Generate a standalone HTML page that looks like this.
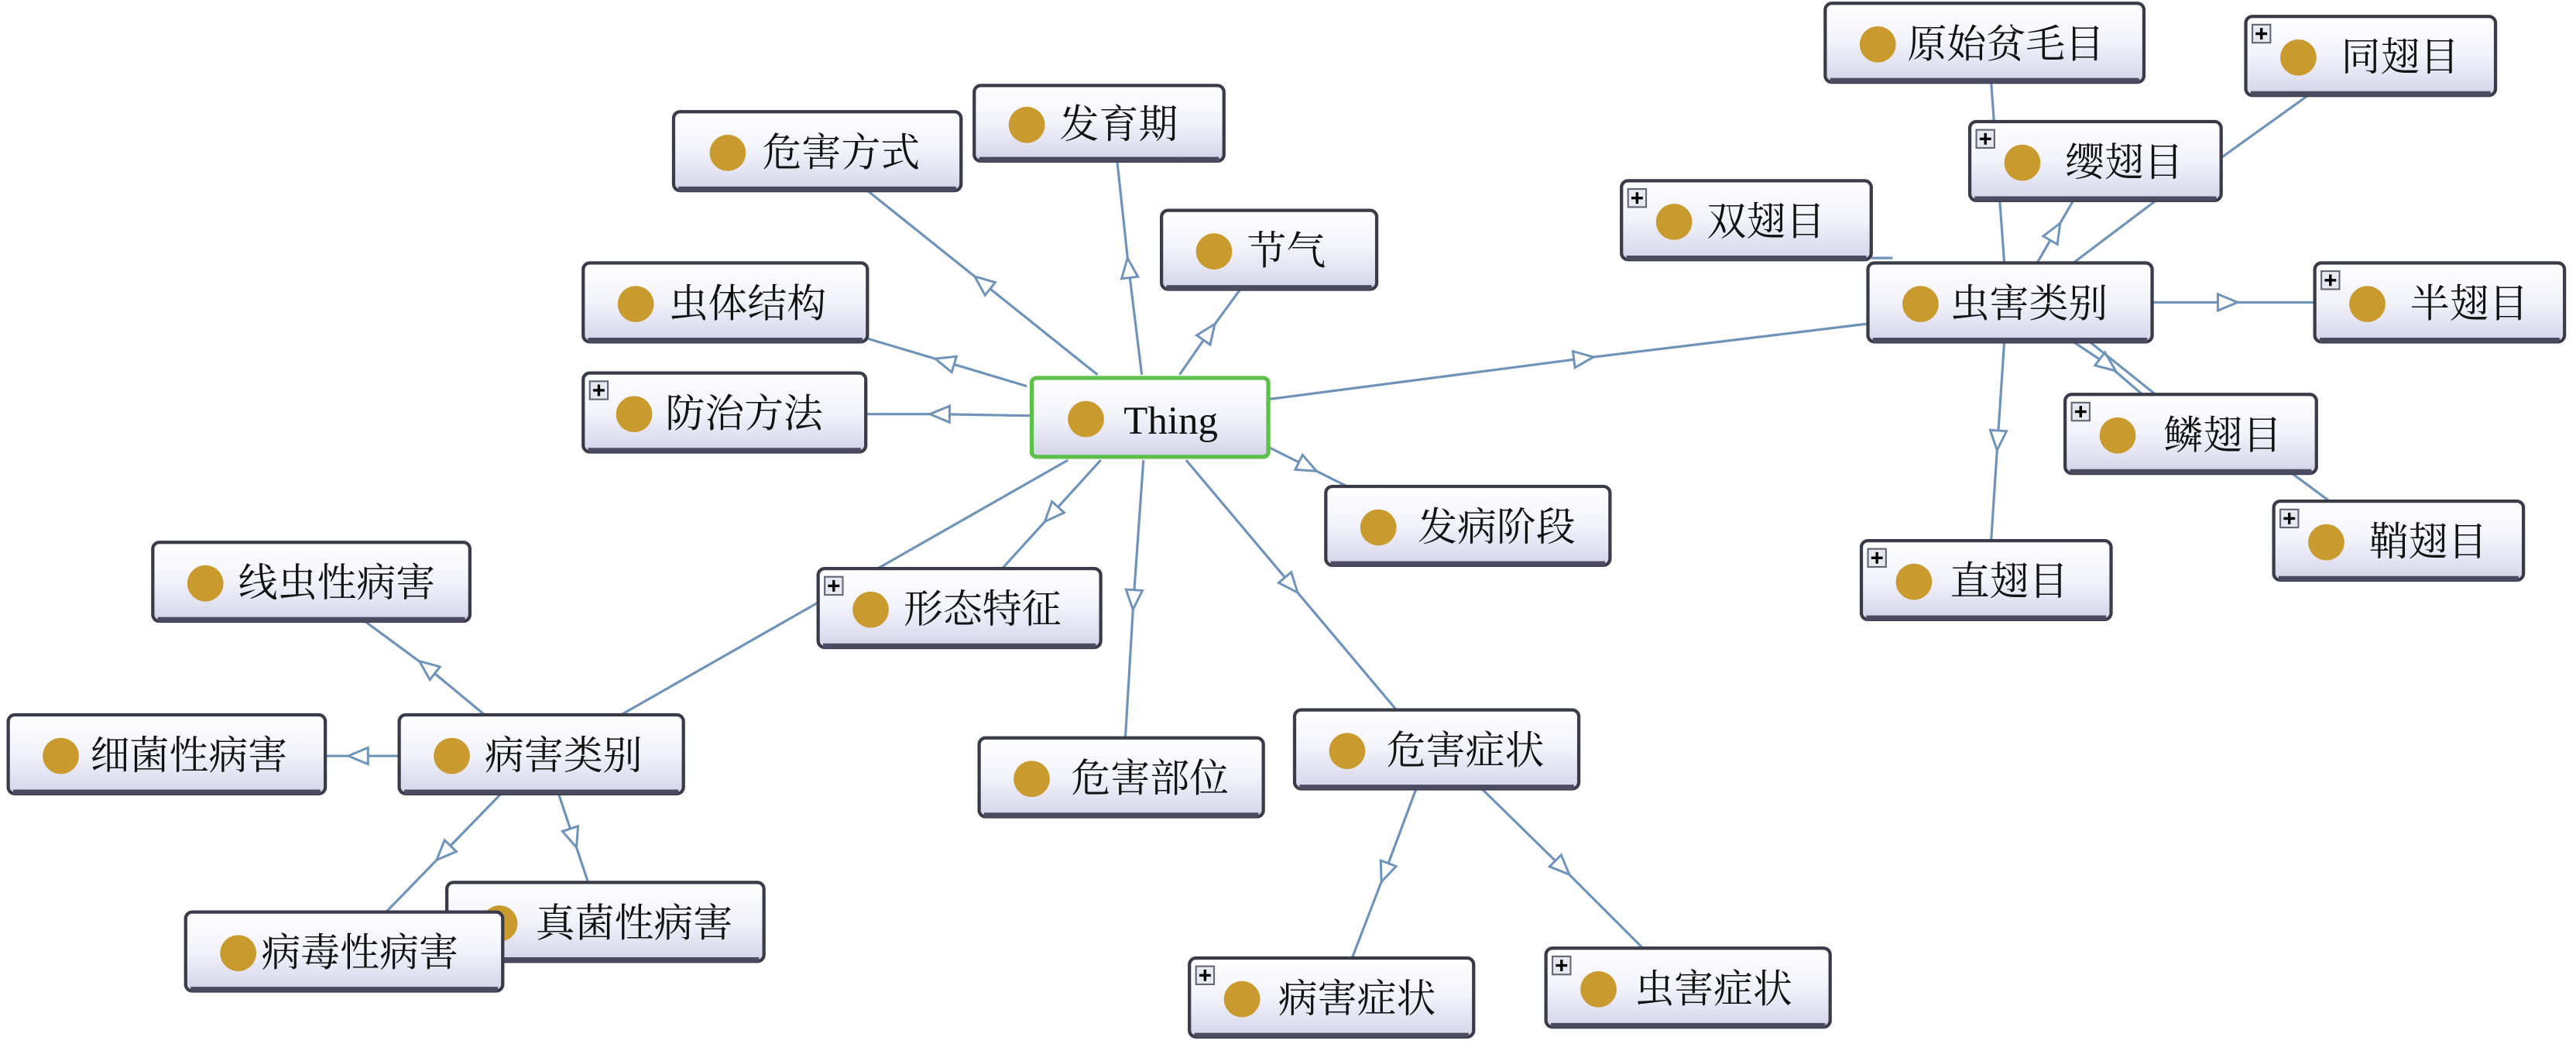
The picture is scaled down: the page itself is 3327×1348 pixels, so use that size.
<!DOCTYPE html>
<html><head><meta charset="utf-8"><style>
html,body{margin:0;padding:0;background:#fff;}
svg{display:block;}
.e{fill:none;stroke:#6f93b8;stroke-width:1.5;}
.n rect.b{fill:url(#g);stroke:#3a3a48;stroke-width:2;}
.n line{stroke:#4a4a60;stroke-width:3;}
.n circle{fill:#c99a2e;}
.n text{font-family:"Liberation Serif","Noto Serif CJK SC",serif;font-size:24px;fill:#111;}
.p rect{fill:#e8e8f0;stroke:#667;stroke-width:1;}
.p path{stroke:#000;stroke-width:1.6;}
</style></head><body>
<svg width="3327" height="1348" viewBox="0 0 1568 635.3" preserveAspectRatio="none" xmlns="http://www.w3.org/2000/svg">
<defs>
<linearGradient id="g" x1="0" y1="0" x2="0" y2="1"><stop offset="0" stop-color="#ffffff"/><stop offset="0.5" stop-color="#f2f2fa"/><stop offset="1" stop-color="#d4d4ea"/></linearGradient>
<marker id="a" viewBox="0 0 14 12" refX="7" refY="6" markerWidth="14" markerHeight="12" markerUnits="userSpaceOnUse" orient="auto"><path d="M1,1 L13,6 L1,11 Z" fill="#fff" stroke="#6f93b8" stroke-width="1.4"/></marker>
</defs>
<!-- edges -->
<polyline class="e" marker-mid="url(#a)" points="668,228 598,172 528,116"/>
<polyline class="e" marker-mid="url(#a)" points="695,228 687,163 680,98"/>
<polyline class="e" marker-mid="url(#a)" points="718,228 736,202 755,176"/>
<polyline class="e" marker-mid="url(#a)" points="625,235 575,220 528,206"/>
<polyline class="e" marker-mid="url(#a)" points="628,253 572,252 527,252"/>
<polyline class="e" marker-mid="url(#a)" points="772,243 964,218 1137,197"/>
<polyline class="e" marker-mid="url(#a)" points="772,272 796,284 820,296"/>
<polyline class="e" marker-mid="url(#a)" points="670,280 640,313 610,346"/>
<polyline class="e" marker-mid="url(#a)" points="696,280 690,365 685,449"/>
<polyline class="e" marker-mid="url(#a)" points="722,280 786,356 850,432"/>
<polyline class="e" points="650,280 378,435"/>
<polyline class="e" marker-mid="url(#a)" points="295,435 260,406 222,378"/>
<polyline class="e" marker-mid="url(#a)" points="243,460 218,460 198,460"/>
<polyline class="e" marker-mid="url(#a)" points="305,483 270,519 235,555"/>
<polyline class="e" marker-mid="url(#a)" points="340,483 349,510 358,537"/>
<polyline class="e" marker-mid="url(#a)" points="862,480 843,531 823,583"/>
<polyline class="e" marker-mid="url(#a)" points="902,480 951,528 1000,577"/>
<polyline class="e" points="1220,160 1212,50"/>
<polyline class="e" marker-mid="url(#a)" points="1240,160 1251,141 1262,122"/>
<polyline class="e" points="1262,160 1315,120"/>
<polyline class="e" points="1352,96 1405,58"/>
<polyline class="e" points="1139,157 1152,157"/>
<polyline class="e" marker-mid="url(#a)" points="1310,184 1356,184 1409,184"/>
<polyline class="e" marker-mid="url(#a)" points="1262,208 1283,222 1304,240"/>
<polyline class="e" points="1272,208 1312,240"/>
<polyline class="e" points="1395,288 1418,305"/>
<polyline class="e" marker-mid="url(#a)" points="1220,208 1216,268 1212,329"/>
<!-- nodes -->
<g class="n" transform="translate(410,68)"><rect class="b" width="175" height="48" rx="4"/><line x1="3" y1="47" x2="172" y2="47"/><circle cx="33" cy="25" r="11"/><text x="54" y="33">危害方式</text></g>
<g class="n" transform="translate(593,52)"><rect class="b" width="152" height="46" rx="4"/><line x1="3" y1="45" x2="149" y2="45"/><circle cx="32" cy="24" r="11"/><text x="52" y="32">发育期</text></g>
<g class="n" transform="translate(707,128)"><rect class="b" width="131" height="48" rx="4"/><line x1="3" y1="47" x2="128" y2="47"/><circle cx="32" cy="25" r="11"/><text x="52" y="33">节气</text></g>
<g class="n" transform="translate(355,160)"><rect class="b" width="173" height="48" rx="4"/><line x1="3" y1="47" x2="170" y2="47"/><circle cx="32" cy="25" r="11"/><text x="52" y="33">虫体结构</text></g>
<g class="n" transform="translate(355,227)"><rect class="b" width="172" height="48" rx="4"/><line x1="3" y1="47" x2="169" y2="47"/><circle cx="31" cy="25" r="11"/><text x="50" y="33">防治方法</text><g class="p"><rect x="4" y="5" width="11" height="11"/><path d="M6,10.5 H13 M9.5,7 V14"/></g></g>
<g class="n" transform="translate(628,230)"><rect width="144" height="48" rx="3" fill="url(#g)" stroke="#5cc04a" stroke-width="2.5"/><circle cx="33" cy="25" r="11"/><text x="56" y="34" style="font-size:24px">Thing</text></g>
<g class="n" transform="translate(807,296)"><rect class="b" width="173" height="48" rx="4"/><line x1="3" y1="47" x2="170" y2="47"/><circle cx="32" cy="25" r="11"/><text x="56" y="33">发病阶段</text></g>
<g class="n" transform="translate(93,330)"><rect class="b" width="193" height="48" rx="4"/><line x1="3" y1="47" x2="190" y2="47"/><circle cx="32" cy="25" r="11"/><text x="52" y="33">线虫性病害</text></g>
<g class="n" transform="translate(498,346)"><rect class="b" width="172" height="48" rx="4"/><line x1="3" y1="47" x2="169" y2="47"/><circle cx="32" cy="25" r="11"/><text x="52" y="33">形态特征</text><g class="p"><rect x="4" y="5" width="11" height="11"/><path d="M6,10.5 H13 M9.5,7 V14"/></g></g>
<g class="n" transform="translate(5,435)"><rect class="b" width="193" height="48" rx="4"/><line x1="3" y1="47" x2="190" y2="47"/><circle cx="32" cy="25" r="11"/><text x="50" y="33">细菌性病害</text></g>
<g class="n" transform="translate(243,435)"><rect class="b" width="173" height="48" rx="4"/><line x1="3" y1="47" x2="170" y2="47"/><circle cx="32" cy="25" r="11"/><text x="52" y="33">病害类别</text></g>
<g class="n" transform="translate(596,449)"><rect class="b" width="173" height="48" rx="4"/><line x1="3" y1="47" x2="170" y2="47"/><circle cx="32" cy="25" r="11"/><text x="56" y="33">危害部位</text></g>
<g class="n" transform="translate(788,432)"><rect class="b" width="173" height="48" rx="4"/><line x1="3" y1="47" x2="170" y2="47"/><circle cx="32" cy="25" r="11"/><text x="56" y="33">危害症状</text></g>
<g class="n" transform="translate(272,537)"><rect class="b" width="193" height="48" rx="4"/><line x1="3" y1="47" x2="190" y2="47"/><circle cx="32" cy="25" r="11"/><text x="54" y="33">真菌性病害</text></g>
<g class="n" transform="translate(113,555)"><rect class="b" width="193" height="48" rx="4"/><line x1="3" y1="47" x2="190" y2="47"/><circle cx="32" cy="25" r="11"/><text x="46" y="33">病毒性病害</text></g>
<g class="n" transform="translate(724,583)"><rect class="b" width="173" height="48" rx="4"/><line x1="3" y1="47" x2="170" y2="47"/><circle cx="32" cy="25" r="11"/><text x="54" y="33">病害症状</text><g class="p"><rect x="4" y="5" width="11" height="11"/><path d="M6,10.5 H13 M9.5,7 V14"/></g></g>
<g class="n" transform="translate(941,577)"><rect class="b" width="173" height="48" rx="4"/><line x1="3" y1="47" x2="170" y2="47"/><circle cx="32" cy="25" r="11"/><text x="54" y="33">虫害症状</text><g class="p"><rect x="4" y="5" width="11" height="11"/><path d="M6,10.5 H13 M9.5,7 V14"/></g></g>
<g class="n" transform="translate(1111,2)"><rect class="b" width="194" height="48" rx="4"/><line x1="3" y1="47" x2="191" y2="47"/><circle cx="32" cy="25" r="11"/><text x="50" y="33">原始贫毛目</text></g>
<g class="n" transform="translate(1367,10)"><rect class="b" width="152" height="48" rx="4"/><line x1="3" y1="47" x2="149" y2="47"/><circle cx="32" cy="25" r="11"/><text x="58" y="33">同翅目</text><g class="p"><rect x="4" y="5" width="11" height="11"/><path d="M6,10.5 H13 M9.5,7 V14"/></g></g>
<g class="n" transform="translate(1199,74)"><rect class="b" width="153" height="48" rx="4"/><line x1="3" y1="47" x2="150" y2="47"/><circle cx="32" cy="25" r="11"/><text x="58" y="33">缨翅目</text><g class="p"><rect x="4" y="5" width="11" height="11"/><path d="M6,10.5 H13 M9.5,7 V14"/></g></g>
<g class="n" transform="translate(987,110)"><rect class="b" width="152" height="48" rx="4"/><line x1="3" y1="47" x2="149" y2="47"/><circle cx="32" cy="25" r="11"/><text x="52" y="33">双翅目</text><g class="p"><rect x="4" y="5" width="11" height="11"/><path d="M6,10.5 H13 M9.5,7 V14"/></g></g>
<g class="n" transform="translate(1137,160)"><rect class="b" width="173" height="48" rx="4"/><line x1="3" y1="47" x2="170" y2="47"/><circle cx="32" cy="25" r="11"/><text x="50" y="33">虫害类别</text></g>
<g class="n" transform="translate(1409,160)"><rect class="b" width="152" height="48" rx="4"/><line x1="3" y1="47" x2="149" y2="47"/><circle cx="32" cy="25" r="11"/><text x="58" y="33">半翅目</text><g class="p"><rect x="4" y="5" width="11" height="11"/><path d="M6,10.5 H13 M9.5,7 V14"/></g></g>
<g class="n" transform="translate(1257,240)"><rect class="b" width="153" height="48" rx="4"/><line x1="3" y1="47" x2="150" y2="47"/><circle cx="32" cy="25" r="11"/><text x="60" y="33">鳞翅目</text><g class="p"><rect x="4" y="5" width="11" height="11"/><path d="M6,10.5 H13 M9.5,7 V14"/></g></g>
<g class="n" transform="translate(1384,305)"><rect class="b" width="152" height="48" rx="4"/><line x1="3" y1="47" x2="149" y2="47"/><circle cx="32" cy="25" r="11"/><text x="58" y="33">鞘翅目</text><g class="p"><rect x="4" y="5" width="11" height="11"/><path d="M6,10.5 H13 M9.5,7 V14"/></g></g>
<g class="n" transform="translate(1133,329)"><rect class="b" width="152" height="48" rx="4"/><line x1="3" y1="47" x2="149" y2="47"/><circle cx="32" cy="25" r="11"/><text x="54" y="33">直翅目</text><g class="p"><rect x="4" y="5" width="11" height="11"/><path d="M6,10.5 H13 M9.5,7 V14"/></g></g>
</svg>
</body></html>
